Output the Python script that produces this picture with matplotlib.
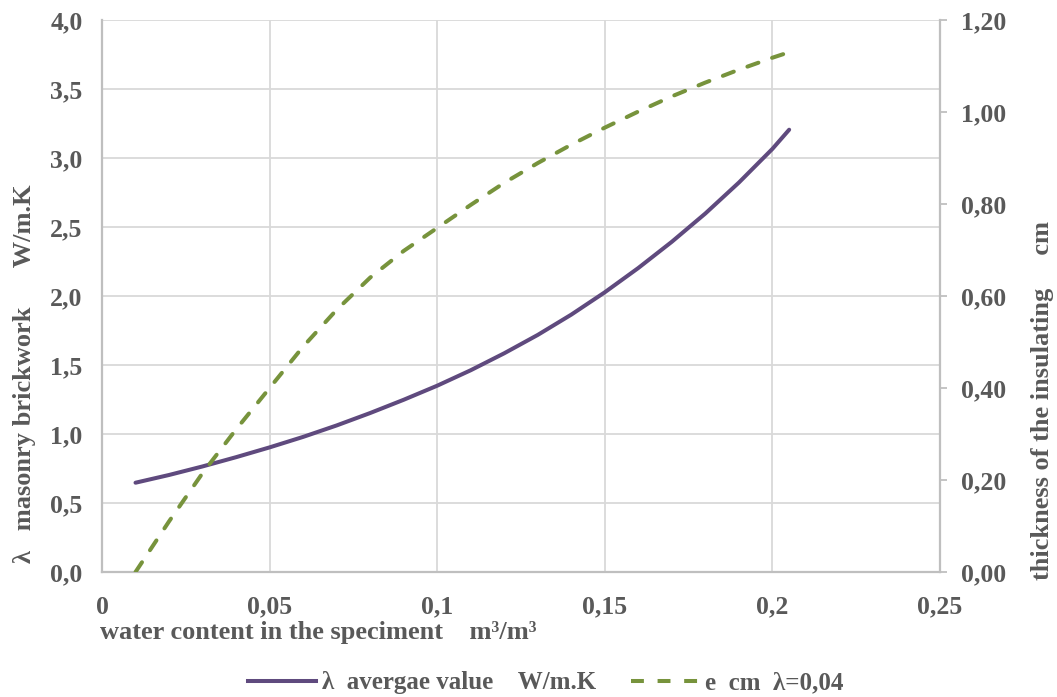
import numpy as np
import matplotlib.pyplot as plt
from matplotlib.lines import Line2D

# data
water = [0.010, 0.020, 0.030, 0.040, 0.050, 0.060, 0.070, 0.080, 0.090, 0.100,
         0.110, 0.120, 0.130, 0.140, 0.150, 0.160, 0.170, 0.180, 0.190, 0.200, 0.205]
lam = [0.647, 0.703, 0.765, 0.832, 0.903, 0.979, 1.062, 1.152, 1.248, 1.350,
       1.462, 1.585, 1.718, 1.865, 2.027, 2.203, 2.393, 2.598, 2.822, 3.066, 3.205]
thick = [0.0, 0.11, 0.215, 0.31, 0.40, 0.49, 0.57, 0.64, 0.698, 0.748,
         0.798, 0.846, 0.889, 0.929, 0.966, 1.001, 1.034, 1.064, 1.092, 1.118, 1.130]

x_ticks = [0, 0.05, 0.1, 0.15, 0.2, 0.25]
x_labels = ['0', '0,05', '0,1', '0,15', '0,2', '0,25']

txt = '#595959'
purple = '#5f4a7e'
green = '#77933c'
plt.rcParams['font.family'] = ['Liberation Serif', 'DejaVu Serif']
plt.rcParams['font.weight'] = 'bold'
fs = 18.5

fig = plt.figure(figsize=(10.57, 6.97), dpi=100)
ax = fig.add_axes([102/1057, 1 - 572/697, (940 - 102)/1057, (572 - 20)/697])
ax2 = ax.twinx()

ax.plot(water, lam, color=purple, lw=2.9, solid_capstyle='round')
ax2.plot(water, thick, color=green, lw=2.9, dashes=(2.9, 3.6), dash_capstyle='round')

ax.set_xlim(0, 0.25)
ax.set_ylim(0, 4.0)
ax2.set_ylim(0, 1.2)
ax.set_xticks(x_ticks)
ax.set_xticklabels(x_labels, fontweight='bold')
ax.set_yticks(np.arange(0, 4.01, 0.5))
ax.set_yticklabels([f'{v:.1f}'.replace('.', ',') for v in np.arange(0, 4.01, 0.5)], fontweight='bold')
ax2.set_yticks(np.arange(0, 1.21, 0.2))
ax2.set_yticklabels([f'{v:.2f}'.replace('.', ',') for v in np.arange(0, 1.21, 0.2)], fontweight='bold')

ax.grid(True, color='#d9d9d9', lw=1.3)
ax.set_axisbelow(True)
for a in (ax, ax2):
    for s in a.spines.values():
        s.set_visible(False)
ax.spines['left'].set_visible(True)
ax.spines['bottom'].set_visible(True)
ax2.spines['right'].set_visible(True)
for s in ('left', 'bottom'):
    ax.spines[s].set_color('#bfbfbf')
    ax.spines[s].set_linewidth(1.6)
ax2.spines['right'].set_color('#bfbfbf')
ax2.spines['right'].set_linewidth(1.6)

ax.tick_params(axis='x', length=0, pad=17, labelsize=fs, labelcolor=txt)
ax.tick_params(axis='y', length=0, pad=14, labelsize=fs, labelcolor=txt)
ax2.tick_params(axis='y', length=5, width=1.3, color='#bfbfbf', pad=10, labelsize=fs, labelcolor=txt)

fig.text(100/1057, 1 - 632/697, 'water content in the speciment    m³/m³',
         fontsize=19, fontweight='bold', color=txt, ha='left', va='center')
fig.text(25/1057, 1 - 374/697, 'λ   masonry brickwork      W/m.K', rotation=90,
         fontsize=19, fontweight='bold', color=txt, ha='center', va='center')
fig.text(1043/1057, 1 - 400/697, 'thickness of the insulating     cm', rotation=90,
         fontsize=19, fontweight='bold', color=txt, ha='center', va='center')

handles = [Line2D([], [], color=purple, lw=2.9),
           Line2D([], [], color=green, lw=2.9, dashes=(3.2, 3.4))]
leg = fig.legend(handles, ['λ  avergae value    W/m.K', 'e  cm  λ=0,04'],
                 loc='center', bbox_to_anchor=(546/1057, 1 - 683/697), ncol=2,
                 frameon=False, prop={'size': 18, 'weight': 'bold'}, labelcolor=txt,
                 handlelength=2.7, handletextpad=0.25, columnspacing=1.4)

fig.savefig('out.png', dpi=100)
